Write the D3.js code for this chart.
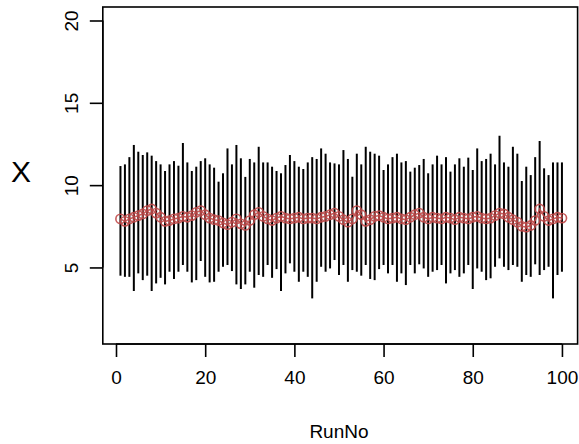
<!DOCTYPE html>
<html>
<head>
<meta charset="utf-8">
<script src="https://cdn.jsdelivr.net/npm/d3@7"></script>
<style>
html,body{margin:0;padding:0;background:#fff;}
svg{display:block;}
text{font-family:"Liberation Sans",Arial,sans-serif;}
</style>
</head>
<body>
<svg id="chart" width="579" height="444"></svg>
<script>
const runNo = d3.range(1, 101);
const highs = [11.16,11.26,11.7,12.44,12.03,11.83,11.99,11.79,11.46,11.26,
  10.86,11.26,11.46,11.18,12.56,11.38,10.86,11.12,11.46,11.63,
  11.26,11.06,10.21,10.72,12.23,11.26,12.44,11.63,10.5,11.59,
  11.38,12.33,11.38,11.38,11.12,10.86,10.72,11.22,11.83,11.46,
  11.12,10.98,11.38,11.7,11.59,12.23,11.91,11.38,11.32,11.26,
  12.13,11.59,10.51,11.91,11.26,12.33,12.03,11.91,11.79,10.92,
  11.26,11.7,11.91,11.38,11.46,10.82,11.06,11.22,11.59,10.72,
  11.26,11.79,11.26,11.7,10.82,11.26,11.63,11.12,11.67,10.92,
  12.23,11.46,11.59,11.91,11.26,13.0,11.38,11.12,12.33,11.91,
  10.25,11.12,10.61,11.7,12.68,11.02,10.61,11.38,11.38,11.38];
const lows = [4.5,4.43,4.43,3.57,4.64,4.23,4.5,3.57,4.03,4.37,
  3.97,4.74,4.3,4.74,5.15,4.74,4.09,4.23,5.39,4.43,
  4.09,4.13,4.74,5.04,5.15,4.78,3.97,3.69,3.97,4.74,
  3.77,4.54,4.43,5.15,4.37,4.9,3.57,4.64,5.25,4.74,
  4.13,4.74,4.43,3.12,4.13,5.04,4.74,4.94,5.45,4.54,
  5.15,4.13,4.84,4.74,4.5,5.15,4.3,4.23,4.9,5.15,
  4.64,5.15,4.13,4.64,3.93,5.15,4.64,5.19,4.94,4.43,
  4.74,4.84,5.15,4.03,4.64,4.84,4.43,4.64,5.15,3.69,
  4.94,4.74,4.23,4.34,5.04,5.55,5.04,4.84,5.15,5.04,
  4.13,4.54,4.43,5.19,4.54,4.84,5.04,3.12,4.54,4.74];
const means = [7.95,7.8,7.95,8.05,8.15,8.25,8.45,8.55,8.3,8.05,
  7.8,7.85,7.95,8.0,8.1,8.05,8.15,8.35,8.45,8.2,
  8.0,7.9,7.85,7.7,7.6,7.75,7.95,7.65,7.55,7.85,
  8.2,8.35,8.1,7.95,7.85,8.0,8.1,8.0,7.95,8.0,
  8.05,7.95,8.0,8.0,7.95,8.05,8.1,8.2,8.3,8.1,
  7.9,7.75,7.95,8.45,8.2,7.8,7.9,8.1,8.15,8.05,
  7.95,8.0,8.05,7.95,7.9,8.05,8.2,8.3,8.05,7.95,
  8.05,8.0,7.95,8.05,8.0,7.9,8.05,8.0,7.95,8.05,
  8.1,8.0,7.95,8.0,8.15,8.3,8.25,8.05,7.9,7.75,
  7.5,7.45,7.55,7.85,8.55,8.1,7.85,7.95,8.05,8.0];
const xTicks = [0,20,40,60,80,100];
const yTicks = [5,10,15,20];

const svg = d3.select("#chart");
const x = d3.scaleLinear().domain([-2.96, 103.96]).range([102.8, 579.6]);
const y = d3.scaleLinear().domain([0.35, 20.82]).range([344, 7]);

const data = runNo.map((r,i)=>({r, lo:lows[i], hi:highs[i], m:means[i]}));
const red = "#c24a4a";

// range bars
svg.append("g").selectAll("line").data(data).join("line")
  .attr("x1",d=>x(d.r)).attr("x2",d=>x(d.r))
  .attr("y1",d=>y(d.lo)).attr("y2",d=>y(d.hi))
  .attr("stroke","#000").attr("stroke-width",2);

// mean line & circles
const gm = svg.append("g").attr("opacity",0.9);
gm.append("path").datum(data)
  .attr("d", d3.line().x(d=>x(d.r)).y(d=>y(d.m)))
  .attr("fill","none").attr("stroke",red).attr("stroke-width",1.6);
gm.selectAll("circle").data(data).join("circle")
  .attr("cx",d=>x(d.r)).attr("cy",d=>y(d.m)).attr("r",4.6)
  .attr("fill","none").attr("stroke",red).attr("stroke-width",1.6);

// box
svg.append("rect").attr("x",102.8).attr("y",7).attr("width",474.8).attr("height",337)
  .attr("fill","none").attr("stroke","#000").attr("stroke-width",1.6);

// axes
const xAxis = d3.axisBottom(x).tickValues(xTicks).tickSize(13).tickPadding(14).tickSizeOuter(0);
const gx = svg.append("g").attr("transform","translate(0,344)").call(xAxis);
gx.select(".domain").attr("d", `M${x(0)},0H${x(100)}`).attr("stroke-width",1.6);
gx.selectAll(".tick line").attr("stroke-width",1.6);
gx.selectAll(".tick text").attr("font-size",19).attr("fill","#000")
  .attr("font-family","'Liberation Sans',Arial,sans-serif");

const yAxis = d3.axisLeft(y).tickValues(yTicks).tickSize(13).tickSizeOuter(0);
const gy = svg.append("g").attr("transform","translate(102.8,0)").call(yAxis);
gy.select(".domain").attr("d", `M0,${y(5)}V${y(20)}`).attr("stroke-width",1.6);
gy.selectAll(".tick line").attr("stroke-width",1.6);
gy.selectAll(".tick text")
  .attr("font-size",19).attr("fill","#000")
  .attr("font-family","'Liberation Sans',Arial,sans-serif")
  .attr("x",0).attr("dy",0)
  .attr("text-anchor","middle")
  .attr("transform","translate(-31,0) rotate(-90)")
  .attr("dominant-baseline","central");

// axis titles
svg.append("text").attr("x", x(50)).attr("y", 438).attr("text-anchor","middle")
  .attr("font-size",19).text("RunNo");
svg.append("text").attr("x", 21).attr("y", 182).attr("text-anchor","middle")
  .attr("font-size",30).text("X");
</script>
</body>
</html>
